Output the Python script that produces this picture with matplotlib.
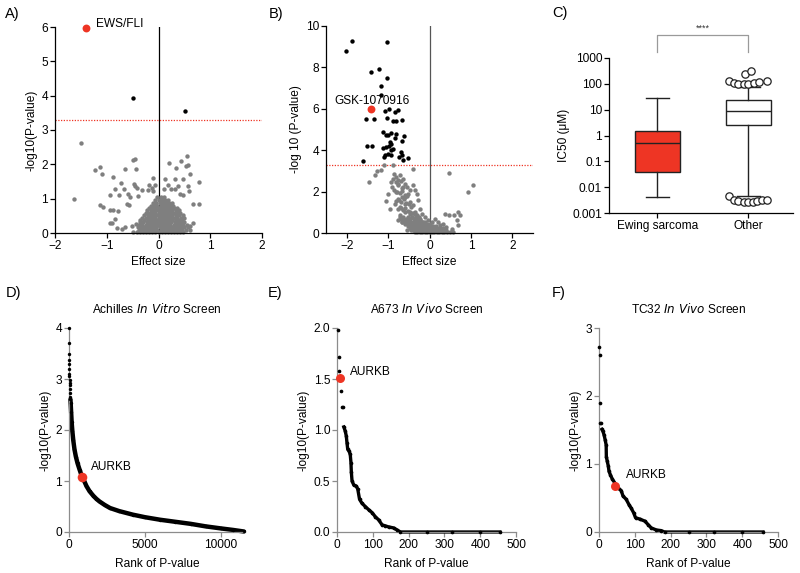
import matplotlib
matplotlib.use("Agg")
import matplotlib.pyplot as plt
import numpy as np

plt.rcParams['font.family'] = ['Liberation Sans', 'DejaVu Sans']
plt.rcParams['font.size'] = 8.5
plt.rcParams['axes.linewidth'] = 0.8

RED = '#ee3524'
GRAY = '#7f7f7f'
FS = 8.6

# ---------------- Panel A data ----------------
a_sparse_x = [-1.50, -1.63, -1.23, -1.14, -1.10, -0.87, -0.50, -0.45, -0.64, -0.43, -0.73,
              -0.48, -0.46, -0.42, -0.84, -0.93, -0.76, -0.66, -0.58, -0.55, -0.60, -0.57,
              -1.14, -1.07, -0.94, -0.87, -0.79, -0.84, -0.89, -0.93, -0.81, -0.71, -0.65,
              -0.52, -0.44, -0.49, -0.39, -0.31, -0.21, -0.18, -0.10, -0.07, -0.13, -0.10,
              0.12, 0.21, 0.32, 0.34, 0.43, 0.48, 0.54, 0.57, 0.56, 0.61, 0.79,
              0.10, 0.19, 0.24, 0.32, 0.38, 0.41, 0.48, 0.57, 0.59, 0.66, 0.78, 0.67, 0.61]
a_sparse_y = [2.61, 1.00, 1.83, 1.92, 1.72, 1.63, 2.14, 2.15, 1.87, 1.86, 1.46,
              1.44, 1.38, 1.31, 1.27, 1.12, 1.10, 1.27, 1.14, 1.05, 0.85, 0.81,
              0.81, 0.76, 0.66, 0.66, 0.64, 0.42, 0.30, 0.30, 0.16, 0.13, 0.17,
              0.21, 0.27, 0.03, 1.08, 1.26, 1.26, 1.41, 1.59, 1.39, 1.30, 1.23,
              1.58, 2.03, 1.58, 1.88, 2.10, 1.58, 1.95, 1.99, 2.25, 1.71, 1.48,
              1.29, 1.39, 1.29, 1.29, 1.37, 1.14, 1.10, 1.36, 1.21, 0.85, 0.85, 0.30, 0.20]
# dense cloud, row by row (y level, x values)
a_cloud_rows = [
    (0.03, [-0.42, -0.36, -0.30, -0.24, -0.18, -0.12, -0.06, 0.00, 0.06, 0.12, 0.18, 0.24, 0.30, 0.36, 0.42, 0.48]),
    (0.10, [-0.38, -0.32, -0.26, -0.20, -0.14, -0.08, -0.02, 0.04, 0.10, 0.16, 0.22, 0.28, 0.34, 0.40, 0.46, 0.53, 0.60]),
    (0.17, [-0.40, -0.34, -0.28, -0.22, -0.16, -0.10, -0.04, 0.02, 0.08, 0.14, 0.20, 0.26, 0.32, 0.38, 0.44, 0.50, 0.57]),
    (0.24, [-0.37, -0.31, -0.25, -0.19, -0.13, -0.07, -0.01, 0.05, 0.11, 0.17, 0.23, 0.29, 0.35, 0.41, 0.48, 0.55]),
    (0.31, [-0.35, -0.29, -0.23, -0.17, -0.11, -0.05, 0.01, 0.07, 0.13, 0.19, 0.25, 0.31, 0.37, 0.43, 0.50]),
    (0.38, [-0.36, -0.28, -0.21, -0.15, -0.09, -0.03, 0.03, 0.09, 0.15, 0.21, 0.27, 0.33, 0.39, 0.46]),
    (0.45, [-0.31, -0.24, -0.18, -0.12, -0.06, 0.00, 0.06, 0.12, 0.18, 0.24, 0.30, 0.36, 0.43, 0.50]),
    (0.52, [-0.28, -0.21, -0.15, -0.09, -0.03, 0.03, 0.09, 0.15, 0.21, 0.27, 0.33, 0.40, 0.47]),
    (0.59, [-0.25, -0.18, -0.12, -0.06, 0.00, 0.06, 0.12, 0.18, 0.24, 0.30, 0.36, 0.42]),
    (0.66, [-0.22, -0.15, -0.09, -0.03, 0.03, 0.09, 0.15, 0.21, 0.27, 0.33, 0.39]),
    (0.73, [-0.18, -0.12, -0.06, 0.00, 0.06, 0.12, 0.18, 0.24, 0.30, 0.36]),
    (0.80, [-0.14, -0.08, -0.02, 0.04, 0.10, 0.16, 0.22, 0.28]),
    (0.88, [-0.10, -0.04, 0.02, 0.08, 0.14, 0.20, 0.27]),
    (0.96, [-0.06, 0.00, 0.06, 0.12, 0.19]),
    (1.04, [-0.03, 0.04, 0.10]),
]
a_sig_x = [-0.50, 0.52]
a_sig_y = [3.93, 3.56]
a_hit_x, a_hit_y, a_hit_label = -1.41, 5.98, 'EWS/FLI'
a_threshold = 3.3

# ---------------- Panel B data ----------------
b_sig_x = [-1.88, -2.02, -1.03, -1.42, -1.21, -1.02, -1.17, -1.17, -1.07, -0.97, -0.84, -0.77,
           -1.53, -1.35, -1.03, -0.87, -0.82, -0.66, -1.12, -1.05, -1.00, -0.92, -0.80, -0.84,
           -0.62, -0.66, -0.96, -0.92, -0.99, -1.04, -1.12, -0.88, -0.94, -1.50, -1.39,
           -1.08, -1.00, -0.92, -1.10, -0.74, -0.64, -0.52, -1.60, -0.68, -0.66]
b_sig_y = [9.29, 8.79, 9.21, 7.76, 7.92, 7.50, 7.10, 6.66, 5.89, 5.97, 5.86, 5.93,
           5.53, 5.53, 5.57, 5.41, 5.41, 5.44, 4.86, 4.73, 4.73, 4.81, 4.78, 4.57,
           4.68, 4.46, 4.40, 4.29, 4.19, 4.16, 4.13, 4.08, 4.00, 4.19, 4.19,
           3.76, 3.84, 3.76, 3.65, 3.65, 3.52, 3.60, 3.49, 3.92, 3.76]
b_ns_x = [-1.46, -1.31, -1.27, -1.17, -1.09, -0.87, -0.39, 0.48, 1.04, 0.94, -1.04, -0.96,
          -0.85, -0.81, -0.77, -0.71, -0.63, -0.59, -0.75, -0.67, -0.55, -0.47, -0.41, -0.35,
          -0.31, -0.51, -0.59, -0.67, -0.77, -0.83, -0.71, -0.59, -0.47, -0.39, -0.27, -0.23,
          -0.35, -0.47, -0.59, -0.71, -0.75, -0.67, -0.55, -0.43, -0.31, -0.19, -0.11, -0.23,
          -0.15, -0.35, -0.47, -0.55, -0.43, -0.31, -0.19, -0.07, -0.03, 0.05, 0.13, 0.21,
          0.25, 0.37, 0.46, 0.58, 0.68, 0.74, 0.66, 0.68, 0.33, 0.41, 0.54, 0.13, 0.01,
          -0.11, 0.05, 0.21, 0.33, -0.23, -0.35, -0.90, -0.80, -1.00, -0.93,
          -0.88, -0.82, -0.76, -0.70, -0.64, -0.85, -0.78, -0.72, -0.66, -0.60, -0.54,
          -0.80, -0.74, -0.68, -0.62, -0.56, -0.50, -0.44, -0.76, -0.70, -0.64, -0.58, -0.52,
          -0.46, -0.40, -0.34]
b_ns_y = [2.47, 2.79, 3.00, 3.06, 3.27, 3.27, 3.11, 2.90, 2.31, 1.99, 1.55, 1.18,
          2.87, 2.71, 2.55, 2.79, 2.63, 2.39, 2.31, 2.15, 2.23, 2.06, 2.31, 2.06,
          1.90, 1.90, 1.74, 1.74, 1.66, 1.42, 1.26, 1.42, 1.50, 1.34, 1.58, 1.18,
          1.02, 0.94, 1.02, 0.85, 0.61, 0.53, 0.69, 0.77, 0.85, 0.94, 0.77, 0.61,
          0.53, 0.53, 0.45, 0.13, 0.29, 0.21, 0.29, 0.37, 0.61, 0.53, 0.69, 0.53,
          0.37, 0.94, 0.85, 0.85, 1.02, 0.85, 0.61, 0.37, 0.45, 0.29, 0.21, 0.29, 0.21,
          0.13, 0.13, 0.16, 0.16, 0.10, 0.13, 2.20, 2.00, 1.90, 2.45,
          2.60, 2.45, 2.35, 2.50, 2.20, 2.10, 2.00, 1.95, 2.02, 1.85, 1.80,
          1.55, 1.60, 1.50, 1.62, 1.45, 1.38, 1.25, 1.15, 1.20, 1.10, 1.22, 1.08,
          1.00, 0.98, 0.90]
b_cloud_rows = [
    (0.04, [-0.36, -0.30, -0.24, -0.18, -0.12, -0.06, 0.00, 0.06, 0.12, 0.18, 0.24, 0.30, 0.36, 0.43, 0.50, 0.56]),
    (0.14, [-0.45, -0.39, -0.33, -0.27, -0.21, -0.15, -0.09, -0.03, 0.03, 0.09, 0.15, 0.21, 0.27, 0.34, 0.41]),
    (0.24, [-0.48, -0.42, -0.36, -0.30, -0.24, -0.18, -0.12, -0.06, 0.00, 0.06, 0.12, 0.18, 0.25, 0.32]),
    (0.34, [-0.52, -0.46, -0.40, -0.34, -0.28, -0.22, -0.16, -0.10, -0.04, 0.02, 0.08, 0.15]),
    (0.44, [-0.60, -0.53, -0.47, -0.41, -0.35, -0.29, -0.23, -0.17, -0.11, -0.05, 0.02]),
    (0.54, [-0.66, -0.59, -0.52, -0.45, -0.38, -0.31, -0.24, -0.17, -0.10]),
    (0.66, [-0.70, -0.62, -0.54, -0.46, -0.38, -0.30, -0.22]),
    (0.78, [-0.72, -0.64, -0.52, -0.42, -0.33, -0.25]),
]
b_hit_x, b_hit_y, b_hit_label = -1.41, 5.97, 'GSK-1070916'
b_threshold = 3.3

# ---------------- Panel C data ----------------
c_groups = ['Ewing sarcoma', 'Other']
c_whislo = [0.0041, 0.0045]
c_q1 = [0.038, 2.5]
c_med = [0.53, 8.8]
c_q3 = [1.49, 23.3]
c_whishi = [28.6, 75.0]
c_out_x = [0.79, 0.84, 0.89, 0.95, 1.00, 1.06, 1.12, 1.20, 0.96, 1.03,
           0.79, 0.84, 0.89, 0.95, 1.00, 1.05, 1.10, 1.15, 1.20]
c_out_y = [126, 109, 98, 98, 98, 109, 118, 133, 234, 315,
           0.0044, 0.0033, 0.0029, 0.0027, 0.0027, 0.0027, 0.0029, 0.0031, 0.0033]

# ---------------- Panel D data ----------------
d_rank = [1, 3, 6, 10, 14, 18, 22, 27, 33, 40, 48, 57, 68, 80, 95, 110, 140, 175, 220, 280,
          360, 450, 560, 700, 870, 1000, 1150, 1350, 1600, 1800, 2000, 2350, 2700, 3300, 4200,
          5000, 6000, 7000, 8000, 9000, 10000, 10800, 11500]
d_val = [4.0, 3.7, 3.5, 3.38, 3.3, 3.2, 3.1, 3.05, 2.98, 2.93, 2.88, 2.8, 2.72, 2.65, 2.6, 2.52,
         2.35, 2.15, 1.98, 1.8, 1.62, 1.48, 1.35, 1.22, 1.07, 1.0, 0.9, 0.8, 0.71, 0.65, 0.6,
         0.53, 0.47, 0.41, 0.34, 0.29, 0.24, 0.20, 0.16, 0.11, 0.07, 0.04, 0.01]
d_hit = (870, 1.07)

# ---------------- Panel E data ----------------
e_top_rank = [3, 5, 6.5, 11, 14, 17]
e_top_val = [1.98, 1.72, 1.58, 1.38, 1.23, 1.23]
e_rank = [19, 23, 26, 28, 30, 34, 37, 39, 40, 42, 47, 54, 58, 63, 70, 79, 88, 98, 107, 116,
          126, 135, 144, 158, 168, 177, 250, 320, 400, 455]
e_val = [1.03, 0.99, 0.94, 0.87, 0.81, 0.79, 0.76, 0.68, 0.59, 0.50, 0.46, 0.45, 0.42, 0.32,
         0.28, 0.25, 0.22, 0.19, 0.15, 0.12, 0.07, 0.06, 0.05, 0.04, 0.02, 0.0, 0.0, 0.0, 0.0, 0.0]
e_hit = (7, 1.51)

# ---------------- Panel F data ----------------
f_top_rank = [0, 2, 2, 4, 6.5]
f_top_val = [2.72, 2.61, 1.89, 1.61, 1.61]
f_rank = [8, 11, 14, 17, 20, 20.5, 23, 26, 28, 32, 37, 53, 62, 67, 76, 84, 90, 97, 102, 114,
          128, 137, 146, 160, 174, 183, 250, 320, 400, 458]
f_val = [1.51, 1.48, 1.43, 1.36, 1.28, 1.11, 1.04, 0.97, 0.89, 0.84, 0.78, 0.65, 0.61, 0.53,
         0.48, 0.40, 0.35, 0.28, 0.21, 0.19, 0.16, 0.11, 0.06, 0.03, 0.02, 0.0, 0.0, 0.0, 0.0, 0.0]
f_hit = (45, 0.68)

# ---------------- Layout helpers ----------------
W, H = 800, 573
fig = plt.figure(figsize=(W / 100, H / 100), dpi=100)


def rect(l, r, t, b):
    return [l / W, 1 - b / H, (r - l) / W, (b - t) / H]


def style(ax, color='black'):
    for s in ['top', 'right']:
        ax.spines[s].set_visible(False)
    for s in ['left', 'bottom']:
        ax.spines[s].set_color(color)
        ax.spines[s].set_linewidth(0.9)
    ax.tick_params(direction='out', length=3.5, width=0.9, color=color, labelsize=FS,
                   pad=1.5)


def rows_to_xy(rows):
    xs, ys = [], []
    for yv, xl in rows:
        xs.extend(xl)
        ys.extend([yv] * len(xl))
    return xs, ys


def letter(x, y, s):
    fig.text(x / W, 1 - y / H, s, fontsize=10.5, va='center', ha='left')


# ---------------- Panel A ----------------
axA = fig.add_axes(rect(55, 262, 27, 233))
style(axA)
axA.set_xlim(-2, 2)
axA.set_ylim(0, 6)
axA.plot([0, 0], [0, 6], color='black', lw=0.9, zorder=1)
axA.axhline(a_threshold, color=RED, lw=0.9, ls=(0, (1, 1.2)), zorder=1)
cx, cy = rows_to_xy(a_cloud_rows)
axA.scatter(a_sparse_x + cx, a_sparse_y + cy, s=10, color=GRAY, lw=0, zorder=2, clip_on=False)
axA.scatter(a_sig_x, a_sig_y, s=10, color='black', lw=0, zorder=3)
axA.scatter([a_hit_x], [a_hit_y], s=32, color=RED, lw=0, zorder=4, clip_on=False)
axA.text(a_hit_x + 0.2, a_hit_y + 0.12, a_hit_label, fontsize=FS, va='center', ha='left')
axA.set_xticks([-2, -1, 0, 1, 2])
axA.set_yticks(range(0, 7))
axA.set_xlabel('Effect size', fontsize=FS, labelpad=3)
axA.set_ylabel('-log10(P-value)', fontsize=FS, labelpad=3)
letter(5, 14, 'A)')

# ---------------- Panel B ----------------
axB = fig.add_axes(rect(326, 533, 26, 233))
style(axB)
axB.set_xlim(-2.5, 2.5)
axB.set_ylim(0, 10)
axB.plot([0, 0], [0, 10], color='#555555', lw=0.9, zorder=1)
axB.axhline(b_threshold, color=RED, lw=0.9, ls=(0, (1, 1.2)), zorder=1)
bx, by = rows_to_xy(b_cloud_rows)
axB.scatter(b_ns_x + bx, b_ns_y + by, s=10, color=GRAY, lw=0, zorder=2, clip_on=False)
axB.scatter(b_sig_x, b_sig_y, s=10, color='black', lw=0, zorder=3)
axB.scatter([b_hit_x], [b_hit_y], s=32, color=RED, lw=0, zorder=4)
axB.text(b_hit_x + 0.02, b_hit_y + 0.4, b_hit_label, fontsize=FS, va='center', ha='center',
         zorder=5)
axB.set_xticks([-2, -1, 0, 1, 2])
axB.set_yticks([0, 2, 4, 6, 8, 10])
axB.set_xlabel('Effect size', fontsize=FS, labelpad=3)
axB.set_ylabel('-log 10 (P-value)', fontsize=FS, labelpad=3)
letter(269, 14, 'B)')

# ---------------- Panel C ----------------
axC = fig.add_axes(rect(609, 793, 58, 213))
style(axC)
axC.set_yscale('log')
axC.set_ylim(0.001, 1000)
axC.set_xlim(-0.53, 1.49)
stats = []
for i, g in enumerate(c_groups):
    stats.append(dict(label=g, whislo=c_whislo[i], q1=c_q1[i], med=c_med[i], q3=c_q3[i],
                      whishi=c_whishi[i], fliers=[]))
bp = axC.bxp(stats, positions=[0, 1], widths=0.5, patch_artist=True, showfliers=False,
             boxprops=dict(linewidth=1.0, edgecolor='#222222'),
             whiskerprops=dict(linewidth=1.0, color='#222222'),
             capprops=dict(linewidth=1.0, color='#222222'),
             medianprops=dict(linewidth=1.0, color='#222222'), capwidths=0.25)
bp['boxes'][0].set_facecolor(RED)
bp['boxes'][1].set_facecolor('white')
axC.scatter(c_out_x, c_out_y, s=28, facecolor='white', edgecolor='#222222', lw=0.9, zorder=5,
            clip_on=False)
axC.set_yticks([0.001, 0.01, 0.1, 1, 10, 100, 1000])
axC.set_yticklabels(['0.001', '0.01', '0.1', '1', '10', '100', '1000'])
axC.minorticks_off()
axC.set_xticks([0, 1])
axC.set_xticklabels(c_groups, fontsize=FS)
axC.set_ylabel('IC50 (μM)', fontsize=FS, labelpad=2)
axC.plot([0, 0, 1, 1], [1700, 7500, 7500, 1700], color='#9a9a9a', lw=0.9, clip_on=False)
axC.text(0.5, 9500, '****', ha='center', va='bottom', fontsize=6.5, color='#333333')
letter(552, 13, 'C)')

# ---------------- Panel D ----------------
GR = '#8c8c8c'
axD = fig.add_axes(rect(69, 245, 328, 532))
style(axD, GR)
axD.set_xlim(0, 11580)
axD.set_ylim(0, 4)
axD.plot(d_rank[14:], d_val[14:], color='black', lw=3.2, solid_capstyle='round', zorder=2,
         clip_on=False)
axD.scatter(d_rank, d_val, s=6, color='black', lw=0, zorder=3, clip_on=False)
axD.scatter([d_hit[0]], [d_hit[1]], s=48, color=RED, lw=0, zorder=4)
axD.text(d_hit[0] + 600, d_hit[1] + 0.2, 'AURKB', fontsize=FS, va='center', ha='left')
axD.set_xticks([0, 5000, 10000])
axD.set_yticks([0, 1, 2, 3, 4])
axD.set_xlabel('Rank of P-value', fontsize=FS, labelpad=5)
axD.set_ylabel('-log10(P-value)', fontsize=FS, labelpad=3)
axD.set_title('Achilles $\\it{In\\ Vitro}$ Screen', fontsize=FS, pad=11)
letter(6, 293, 'D)')

# ---------------- Panel E ----------------
axE = fig.add_axes(rect(337, 516, 328, 532))
style(axE, GR)
axE.set_xlim(0, 500)
axE.set_ylim(0, 2.0)
axE.plot(e_rank, e_val, color='black', lw=2.4, zorder=2, clip_on=False)
axE.scatter(e_top_rank + e_rank, e_top_val + e_val, s=7, color='black', lw=0, zorder=3,
            clip_on=False)
axE.scatter([e_hit[0]], [e_hit[1]], s=42, color=RED, lw=0, zorder=4, clip_on=False)
axE.text(e_hit[0] + 28, e_hit[1] + 0.06, 'AURKB', fontsize=FS, va='center', ha='left')
axE.set_xticks([0, 100, 200, 300, 400, 500])
axE.set_yticks([0.0, 0.5, 1.0, 1.5, 2.0])
axE.set_yticklabels(['0.0', '0.5', '1.0', '1.5', '2.0'])
axE.set_xlabel('Rank of P-value', fontsize=FS, labelpad=5)
axE.set_ylabel('-log10(P-value)', fontsize=FS, labelpad=3)
axE.set_title('A673 $\\it{In\\ Vivo}$ Screen', fontsize=FS, pad=11)
letter(268, 293, 'E)')

# ---------------- Panel F ----------------
axF = fig.add_axes(rect(599, 778, 328, 532))
style(axF, GR)
axF.set_xlim(0, 500)
axF.set_ylim(0, 3)
axF.plot(f_rank, f_val, color='black', lw=2.4, zorder=2, clip_on=False)
axF.scatter(f_top_rank + f_rank, f_top_val + f_val, s=7, color='black', lw=0, zorder=3,
            clip_on=False)
axF.scatter([f_hit[0]], [f_hit[1]], s=42, color=RED, lw=0, zorder=4)
axF.text(f_hit[0] + 31, f_hit[1] + 0.16, 'AURKB', fontsize=FS, va='center', ha='left')
axF.set_xticks([0, 100, 200, 300, 400, 500])
axF.set_yticks([0, 1, 2, 3])
axF.set_xlabel('Rank of P-value', fontsize=FS, labelpad=5)
axF.set_ylabel('-log10(P-value)', fontsize=FS, labelpad=3)
axF.set_title('TC32 $\\it{In\\ Vivo}$ Screen', fontsize=FS, pad=11)
letter(552, 293, 'F)')

fig.savefig('out.png', dpi=100)
